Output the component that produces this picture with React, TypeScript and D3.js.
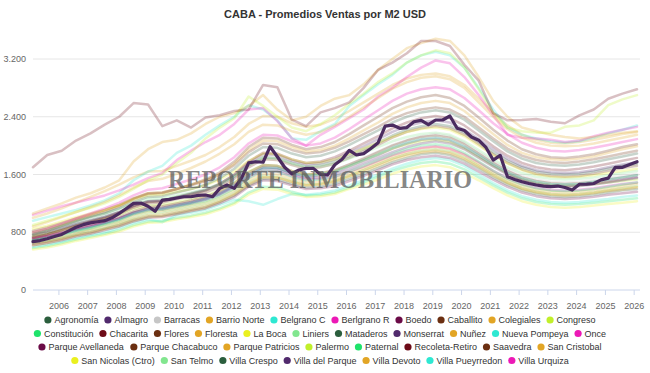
import React, { useMemo } from 'react';
import * as d3 from 'd3';

// periods: typed years, half-year points for the background series, quarterly for the highlighted one
const years = [2005, 2006, 2007, 2008, 2009, 2010, 2011, 2012, 2013, 2014, 2015, 2016, 2017, 2018, 2019, 2020, 2021, 2022, 2023, 2024, 2025, 2026];
const semesters = years.flatMap((y) => (y < 2026 ? [`${y}-S1`, `${y}-S2`] : [`${y}-S1`]));
const quarters = years.flatMap((y) => (y < 2026 ? [1, 2, 3, 4].map((q) => `${y}-Q${q}`) : [`${y}-Q1`]));

const yTicks = [0, 800, 1600, 2400, 3200];
const xTickYears = [2006, 2007, 2008, 2009, 2010, 2011, 2012, 2013, 2014, 2015, 2016, 2017, 2018, 2019, 2020, 2021, 2022, 2023, 2024, 2025, 2026];

// USD per m2, half-yearly
const agronomia = [760,800,860,920,970,1020,1080,1170,1230,1240,1290,1330,1380,1460,1570,1730,1840,1830,1760,1710,1730,1780,1860,1950,2040,2140,2220,2270,2300,2270,2180,2050,1910,1790,1700,1640,1610,1600,1610,1640,1680,1720,1750];
const almagro = [740,790,850,910,960,1010,1080,1170,1230,1240,1290,1340,1390,1470,1590,1760,1880,1870,1790,1740,1760,1810,1900,1990,2090,2190,2270,2320,2350,2320,2220,2090,1950,1820,1720,1660,1630,1620,1630,1660,1700,1740,1770];
const barracas = [650,690,740,800,850,900,960,1040,1100,1110,1160,1200,1250,1330,1440,1600,1710,1700,1630,1590,1610,1660,1740,1830,1920,2010,2080,2130,2160,2130,2040,1910,1780,1670,1580,1530,1500,1490,1500,1520,1550,1580,1610];
const barrioNorte = [1000,1060,1130,1210,1290,1370,1460,1560,1640,1650,1720,1790,1870,1980,2120,2300,2410,2400,2310,2260,2290,2370,2480,2600,2720,2840,2930,2980,3000,2960,2840,2650,2450,2280,2150,2080,2040,2030,2050,2080,2120,2160,2190];
const belgranoC = [960,1010,1060,1110,1170,1240,1340,1520,1640,1720,1900,2000,2150,2280,2400,2560,2500,2350,2100,2080,2200,2300,2550,2700,2850,2980,3150,3250,3300,3250,3080,2800,2500,2250,2150,2100,2060,2040,2060,2110,2170,2220,2280];
const belgranoR = [1040,1100,1160,1210,1260,1310,1380,1460,1550,1620,1800,1930,2050,2150,2300,2500,2520,2340,2100,2000,2150,2260,2380,2500,2680,2800,2950,3080,3180,3140,2950,2700,2420,2150,2110,2100,2080,2050,2070,2130,2180,2220,2260];
const boedo = [690,730,780,830,880,930,990,1070,1130,1140,1180,1220,1270,1340,1450,1600,1700,1690,1620,1570,1590,1630,1710,1790,1870,1960,2030,2080,2100,2070,1980,1860,1730,1620,1530,1480,1450,1440,1450,1470,1500,1530,1560];
const caballito = [820,870,930,990,1050,1110,1180,1270,1340,1350,1400,1450,1510,1600,1730,1910,2030,2020,1940,1890,1910,1970,2060,2160,2260,2370,2450,2500,2530,2500,2400,2250,2100,1960,1860,1800,1770,1760,1780,1810,1850,1890,1930];
const colegiales = [880,940,1010,1080,1150,1220,1310,1420,1510,1540,1610,1690,1780,1890,2020,2190,2290,2280,2200,2150,2190,2280,2400,2530,2660,2790,2880,2940,2960,2920,2800,2600,2400,2230,2110,2040,2000,1990,2000,2030,2070,2110,2150];
const congreso = [740,780,830,880,930,980,1040,1120,1170,1180,1220,1260,1310,1380,1490,1640,1730,1720,1650,1600,1610,1650,1720,1800,1880,1960,2020,2060,2080,2050,1960,1840,1720,1610,1530,1480,1450,1440,1450,1470,1490,1510,1530];
const constitucion = [580,610,650,700,740,780,830,900,950,960,1000,1030,1070,1130,1210,1350,1430,1420,1360,1310,1320,1350,1420,1490,1570,1650,1710,1760,1780,1750,1670,1560,1450,1350,1270,1220,1190,1180,1190,1210,1230,1250,1270];
const chacarita = [720,770,830,890,950,1000,1070,1160,1220,1230,1280,1330,1380,1470,1600,1780,1900,1890,1810,1760,1780,1840,1930,2030,2130,2240,2320,2380,2410,2380,2280,2140,1990,1860,1760,1700,1670,1660,1680,1710,1750,1790,1830];
const flores = [710,750,800,850,900,950,1010,1090,1150,1160,1200,1240,1290,1370,1480,1630,1730,1720,1650,1600,1620,1660,1740,1820,1910,2000,2070,2120,2140,2110,2020,1890,1760,1650,1560,1510,1480,1470,1480,1500,1530,1560,1590];
const floresta = [680,710,750,800,850,900,950,1030,1080,1090,1130,1170,1210,1280,1380,1520,1610,1600,1540,1490,1500,1540,1610,1690,1770,1850,1910,1960,1980,1950,1870,1750,1630,1520,1440,1390,1360,1350,1360,1380,1410,1440,1470];
const laBoca = [560,590,630,680,720,760,810,880,930,940,980,1010,1050,1110,1190,1320,1400,1390,1330,1290,1300,1330,1400,1460,1530,1610,1670,1710,1730,1700,1620,1520,1410,1310,1230,1180,1150,1140,1150,1170,1190,1210,1230];
const liniers = [660,690,730,780,830,870,930,1000,1060,1070,1110,1150,1190,1260,1350,1490,1580,1570,1510,1460,1470,1510,1580,1660,1740,1820,1880,1930,1950,1920,1840,1720,1600,1490,1410,1360,1330,1320,1330,1350,1380,1410,1440];
const mataderos = [640,670,710,760,800,850,900,970,1020,1030,1070,1110,1150,1220,1310,1450,1540,1530,1470,1420,1430,1470,1540,1610,1690,1770,1830,1880,1900,1870,1790,1680,1560,1460,1380,1330,1300,1290,1300,1320,1350,1380,1400];
const monserrat = [700,740,790,840,880,930,990,1070,1120,1130,1170,1210,1260,1330,1440,1580,1680,1670,1600,1550,1560,1600,1670,1750,1830,1910,1980,2030,2060,2030,1950,1830,1710,1600,1520,1470,1440,1430,1440,1460,1490,1520,1550];
const nunez = [1060,1130,1200,1280,1340,1420,1520,1780,1950,2050,2080,2170,2300,2400,2450,2550,2700,2500,2350,2400,2550,2650,2700,2850,3050,3200,3350,3420,3480,3450,3250,2950,2620,2400,2250,2200,2150,2120,2100,2120,2150,2180,2200];
const nuevaPompeya = [600,630,670,720,760,800,860,930,980,940,1040,1070,1110,1180,1250,1230,1180,1260,1330,1320,1340,1380,1450,1520,1600,1680,1750,1800,1830,1800,1720,1600,1480,1380,1300,1250,1220,1210,1220,1240,1260,1290,1310];
const once = [720,750,790,840,890,930,990,1060,1110,1120,1160,1200,1250,1320,1420,1560,1650,1640,1580,1530,1540,1570,1640,1710,1790,1870,1930,1970,1990,1960,1880,1770,1650,1550,1470,1420,1390,1380,1390,1410,1440,1470,1490];
const parqueAvellaneda = [620,650,690,740,780,830,880,950,1000,1010,1050,1090,1130,1200,1290,1430,1520,1510,1450,1400,1410,1440,1510,1580,1660,1740,1800,1840,1860,1830,1750,1640,1530,1430,1350,1300,1270,1260,1270,1290,1320,1340,1360];
const parqueChacabuco = [730,770,830,890,940,990,1050,1140,1200,1210,1260,1300,1350,1430,1540,1700,1810,1800,1730,1680,1700,1750,1830,1920,2010,2110,2190,2240,2270,2240,2150,2020,1880,1760,1670,1610,1580,1570,1580,1610,1650,1690,1720];
const parquePatricios = [620,650,700,750,790,840,890,960,1010,1020,1060,1100,1140,1220,1320,1460,1560,1560,1500,1450,1470,1510,1580,1660,1740,1820,1880,1920,1940,1910,1830,1720,1600,1490,1410,1360,1330,1320,1330,1350,1380,1410,1430];
const palermo = [900,960,1020,1080,1140,1200,1290,1400,1520,1600,1760,1900,2100,2250,2380,2680,2550,2400,2250,2200,2300,2420,2580,2720,2880,3000,3150,3250,3320,3280,3080,2780,2450,2250,2200,2180,2180,2260,2280,2350,2560,2640,2700];
const paternal = [690,720,770,820,860,910,970,1050,1100,1110,1150,1190,1230,1300,1400,1550,1650,1640,1570,1520,1530,1570,1640,1720,1800,1880,1950,2000,2020,1990,1900,1780,1650,1540,1460,1410,1380,1370,1380,1400,1430,1460,1490];
const recoletaRetiro = [1700,1870,1930,2070,2170,2290,2400,2590,2570,2270,2350,2250,2390,2420,2480,2500,2840,2810,2360,2270,2460,2520,2600,2800,3050,3150,3280,3450,3450,3380,3120,2900,2450,2350,2355,2370,2330,2310,2420,2500,2650,2720,2780];
const saavedra = [770,820,890,960,1020,1080,1160,1260,1330,1340,1400,1460,1530,1630,1780,1980,2110,2100,2010,1950,1980,2050,2160,2280,2400,2520,2610,2670,2700,2660,2550,2390,2220,2070,1950,1880,1840,1830,1850,1880,1930,1980,2020];
const sanCristobal = [650,680,720,770,820,860,920,990,1040,1050,1090,1130,1170,1240,1340,1480,1570,1560,1500,1450,1460,1500,1570,1640,1720,1800,1860,1900,1920,1890,1810,1700,1580,1480,1400,1350,1320,1310,1320,1340,1370,1390,1420];
const sanNicolas = [850,890,950,1010,1060,1110,1170,1250,1310,1320,1360,1400,1450,1530,1640,1790,1890,1880,1810,1760,1770,1810,1880,1960,2040,2120,2190,2230,2250,2220,2130,2000,1870,1750,1660,1600,1570,1560,1570,1590,1620,1650,1680];
const sanTelmo = [800,840,900,960,1010,1060,1120,1200,1260,1270,1310,1350,1400,1470,1580,1730,1830,1820,1750,1700,1710,1750,1820,1900,1980,2060,2120,2160,2180,2150,2060,1940,1810,1700,1620,1570,1540,1530,1540,1560,1590,1620,1650];
const villaCrespo = [780,830,890,950,1010,1060,1130,1220,1290,1300,1350,1400,1460,1550,1680,1860,1980,1970,1890,1840,1860,1920,2010,2110,2210,2320,2400,2460,2490,2460,2360,2210,2060,1920,1820,1760,1730,1720,1740,1770,1810,1850,1890];
const villaDevoto = [800,850,910,980,1040,1100,1170,1270,1340,1350,1400,1460,1520,1610,1750,1940,2070,2060,1980,1920,1940,2000,2100,2210,2320,2440,2530,2590,2620,2590,2480,2320,2160,2010,1900,1840,1810,1800,1820,1850,1900,1950,1990];
const villaPueyrredon = [680,720,770,820,870,920,980,1060,1120,1130,1170,1210,1260,1330,1440,1590,1690,1690,1620,1580,1600,1640,1720,1800,1880,1970,2040,2090,2110,2080,1990,1870,1740,1630,1550,1500,1470,1460,1470,1500,1530,1560,1590];
const villaUrquiza = [800,850,920,990,1060,1130,1210,1310,1390,1410,1470,1530,1600,1700,1840,2030,2150,2140,2060,2000,2030,2110,2230,2360,2490,2620,2720,2780,2810,2780,2660,2490,2310,2160,2040,1970,1930,1920,1940,1970,2010,2050,2090];

// highlighted series, quarterly
const villaDelParque = [670,685,710,740,770,820,870,905,930,945,960,1000,1060,1130,1200,1205,1160,1090,1245,1255,1275,1292,1292,1310,1316,1292,1408,1454,1408,1547,1760,1777,1770,1985,1846,1700,1610,1662,1685,1685,1600,1595,1735,1810,1935,1870,1890,1960,2040,2270,2285,2240,2250,2330,2350,2290,2355,2355,2410,2240,2210,2120,2075,1975,1800,1865,1570,1530,1500,1475,1455,1440,1432,1440,1420,1385,1465,1468,1475,1525,1550,1700,1700,1740,1777];

const C = {
  dkgreen: '#2b5e3d', purple: '#512a6d', gray: '#c6c6c6', gold: '#e2a525', cyan: '#2ee8d2',
  magenta: '#ec19b6', maroon: '#6b0b47', brown: '#6b2f11', ygreen: '#c1ef2b', green: '#1fe36b',
  dkred: '#6d0b17', yellow: '#eaf01f', lgreen: '#82e68f',
};

const series = [
  { name: 'Agronomía', color: C.dkgreen, values: agronomia },
  { name: 'Almagro', color: C.purple, values: almagro },
  { name: 'Barracas', color: C.gray, values: barracas },
  { name: 'Barrio Norte', color: C.gold, values: barrioNorte },
  { name: 'Belgrano C', color: C.cyan, values: belgranoC },
  { name: 'Berlgrano R', color: C.magenta, values: belgranoR },
  { name: 'Boedo', color: C.maroon, values: boedo },
  { name: 'Caballito', color: C.brown, values: caballito },
  { name: 'Colegiales', color: C.gold, values: colegiales },
  { name: 'Congreso', color: C.ygreen, values: congreso },
  { name: 'Constitución', color: C.green, values: constitucion },
  { name: 'Chacarita', color: C.dkred, values: chacarita },
  { name: 'Flores', color: C.brown, values: flores },
  { name: 'Floresta', color: C.gold, values: floresta },
  { name: 'La Boca', color: C.yellow, values: laBoca },
  { name: 'Liniers', color: C.lgreen, values: liniers },
  { name: 'Mataderos', color: C.dkgreen, values: mataderos },
  { name: 'Monserrat', color: C.purple, values: monserrat },
  { name: 'Nuñez', color: C.gold, values: nunez },
  { name: 'Nueva Pompeya', color: C.cyan, values: nuevaPompeya },
  { name: 'Once', color: C.magenta, values: once },
  { name: 'Parque Avellaneda', color: C.maroon, values: parqueAvellaneda },
  { name: 'Parque Chacabuco', color: C.brown, values: parqueChacabuco },
  { name: 'Parque Patricios', color: C.gold, values: parquePatricios },
  { name: 'Palermo', color: C.ygreen, values: palermo },
  { name: 'Paternal', color: C.green, values: paternal },
  { name: 'Recoleta-Retiro', color: C.dkred, values: recoletaRetiro },
  { name: 'Saavedra', color: C.brown, values: saavedra },
  { name: 'San Cristobal', color: C.gold, values: sanCristobal },
  { name: 'San Nicolas (Ctro)', color: C.yellow, values: sanNicolas },
  { name: 'San Telmo', color: C.lgreen, values: sanTelmo },
  { name: 'Villa Crespo', color: C.dkgreen, values: villaCrespo },
  { name: 'Villa del Parque', color: C.purple, values: villaDelParque, highlight: true },
  { name: 'Villa Devoto', color: C.gold, values: villaDevoto },
  { name: 'Villa Pueyrredon', color: C.cyan, values: villaPueyrredon },
  { name: 'Villa Urquiza', color: C.magenta, values: villaUrquiza },
];

const legendRows = [10, 11, 8, 7];

const periodDate = (label: string) => {
  const [y, p] = label.split('-');
  const n = +p.slice(1);
  const month = p[0] === 'S' ? (n - 1) * 6 + 1 : (n - 1) * 3 + 1;
  return new Date(+y, month, 6);
};

const FONT = '"Liberation Sans", Arial, sans-serif';

export default function App() {
  const x = d3.scaleTime().domain([new Date(2005, 1, 6), new Date(2026, 1, 6)]).range([33, 637]);
  const y = d3.scaleLinear().domain([0, 3200]).range([290, 59]);

  const line = d3.line<[Date, number]>().x((d) => x(d[0])).y((d) => y(d[1]));

  const pathFor = (s: typeof series[number]) => {
    const periods = s.highlight ? quarters : semesters;
    return line(s.values.map((v, i) => [periodDate(periods[i]), v] as [Date, number])) || '';
  };

  // legend layout measured with canvas
  const legend = useMemo(() => {
    const ctx = document.createElement('canvas').getContext('2d')!;
    ctx.font = `9px ${FONT}`;
    const items: { name: string; color: string; x: number; cy: number }[] = [];
    let idx = 0;
    legendRows.forEach((count, r) => {
      const row = series.slice(idx, idx + count);
      idx += count;
      const widths = row.map((s) => 10 + ctx.measureText(s.name).width);
      const total = d3.sum(widths) + 6 * (row.length - 1);
      let cx = 320 - total / 2;
      row.forEach((s, i) => {
        items.push({ name: s.name, color: s.color, x: cx, cy: 320 + r * 13.5 });
        cx += widths[i] + 6;
      });
    });
    return items;
  }, []);

  const background = series.filter((s) => !s.highlight);
  const main = series.filter((s) => s.highlight);

  return (
    <svg width={650} height={373} style={{ position: 'absolute', left: 0, top: 0, fontFamily: FONT }}>
      <rect width={650} height={373} fill="#fff" />
      <text x={325} y={18} textAnchor="middle" fontSize={11} fontWeight="bold" fill="#333">
        CABA - Promedios Ventas por M2 USD
      </text>

      {yTicks.map((t) => (
        <g key={t}>
          {t > 0 && <line x1={33} x2={640} y1={y(t)} y2={y(t)} stroke="#e6e6e6" />}
          <text x={26} y={y(t) + 3} textAnchor="end" fontSize={9} fill="#666">
            {d3.format(',')(t).replace(',', '.')}
          </text>
        </g>
      ))}
      <line x1={33} x2={640} y1={290} y2={290} stroke="#ccd6eb" />
      {xTickYears.map((yr) => {
        const px = x(new Date(yr, 0, 1));
        return (
          <g key={yr}>
            <line x1={px} x2={px} y1={290} y2={295} stroke="#ccd6eb" />
            <text x={px} y={309} textAnchor="middle" fontSize={9} fill="#666">{yr}</text>
          </g>
        );
      })}

      <g fill="none" strokeLinejoin="round" strokeLinecap="round">
        {background.map((s) => (
          <path key={s.name} d={pathFor(s)} stroke={s.color} strokeOpacity={0.26} strokeWidth={2.5} />
        ))}
        {main.map((s) => (
          <path key={s.name} d={pathFor(s)} stroke="#4b2c60" strokeWidth={3.2} />
        ))}
      </g>

      <text x={168} y={188} fontFamily='"Liberation Serif", "Times New Roman", serif' fontSize={25}
        fontWeight="bold" textLength={304} lengthAdjust="spacingAndGlyphs" fill="#555" opacity={0.7}>
        REPORTE INMOBILIARIO
      </text>

      {legend.map((it) => (
        <g key={it.name}>
          <circle cx={it.x + 3.5} cy={it.cy} r={3.6} fill={it.color} />
          <text x={it.x + 10} y={it.cy + 3.2} fontSize={9} fill="#333">{it.name}</text>
        </g>
      ))}
    </svg>
  );
}
